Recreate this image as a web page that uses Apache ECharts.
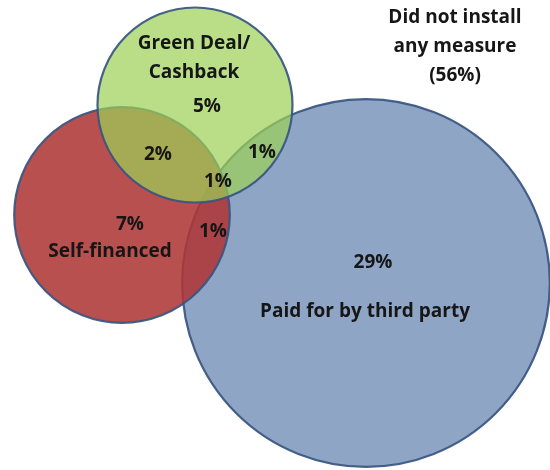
<!DOCTYPE html>
<html>
<head>
<meta charset="utf-8">
<script src="https://cdn.jsdelivr.net/npm/echarts@6/dist/echarts.min.js"></script>
<style>html,body{margin:0;padding:0;background:#fff}#c{width:550px;height:470px}</style>
</head>
<body>
<div id="c"></div>
<script>
// Sets of the Venn diagram (drawing order: back to front)
const setNames = ['Paid for by third party', 'Self-financed', 'Green Deal/Cashback'];
// total share of households in each set (sum of its regions), %
const setShares = [32, 11, 9];
// layout of set centres in diagram units
const setCentreX = [36.6, 12.2, 19.5];
const setCentreY = [28.3, 21.5, 10.5];

// region / annotation texts
const regionTexts = ['Green Deal/\nCashback', '5%', '2%', '1%', '1%', '7%', 'Self-financed', '1%', '29%', 'Paid for by third party', 'Did not install\nany measure\n(56%)'];
const regionX = [19.4, 20.7, 15.8, 26.2, 21.8, 13.0, 11.0, 21.3, 37.3, 36.5, 45.5];
const regionY = [5.8, 10.7, 15.5, 15.3, 18.2, 22.5, 25.2, 23.2, 26.3, 31.2, 4.7];

const fills = ['rgba(143,165,198,1)', 'rgba(175,54,54,0.87)', 'rgba(156,208,86,0.71)'];
const radiusPerSqrtShare = 3.25;

const chart = echarts.init(document.getElementById('c'), null, {renderer: 'canvas'});
chart.setOption({
  animation: false,
  backgroundColor: '#ffffff',
  grid: {left: 0, right: 0, top: 0, bottom: 0},
  xAxis: {type: 'value', min: 0, max: 55, show: false},
  yAxis: {type: 'value', min: 0, max: 47, inverse: true, show: false},
  series: [
    {
      type: 'custom',
      clip: false,
      data: setNames.map((n, i) => ({name: n, value: [setCentreX[i], setCentreY[i], radiusPerSqrtShare * Math.sqrt(setShares[i])]})),
      renderItem: function (params, api) {
        const x = api.value(0), y = api.value(1), rv = api.value(2);
        const c = api.coord([x, y]);
        const e = api.coord([x + rv, y]);
        const r = Math.abs(e[0] - c[0]);
        return {
          type: 'circle',
          shape: {cx: c[0], cy: c[1], r: r},
          style: {fill: fills[params.dataIndex], stroke: 'rgba(55,85,128,0.92)', lineWidth: 2.2}
        };
      }
    },
    {
      type: 'scatter',
      symbolSize: 0,
      silent: true,
      z: 10,
      itemStyle: {opacity: 1},
      data: regionTexts.map((t, i) => ({name: t, value: [regionX[i], regionY[i]]})),
      label: {
        show: true,
        position: 'inside',
        formatter: '{b}',
        fontFamily: 'Open Sans',
        fontWeight: 'bold',
        fontSize: 19,
        lineHeight: 29,
        color: '#161616',
        align: 'center',
        verticalAlign: 'middle'
      }
    }
  ]
});
</script>
</body>
</html>
